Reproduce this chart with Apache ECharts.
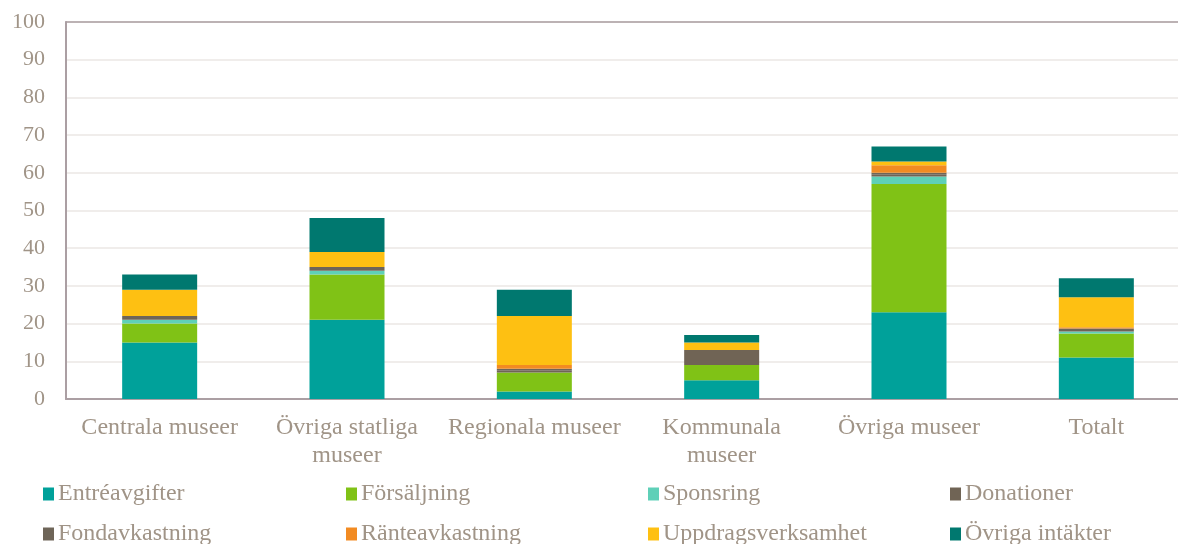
<!DOCTYPE html>
<html><head><meta charset="utf-8">
<script src="https://cdn.jsdelivr.net/npm/echarts@6/dist/echarts.min.js"></script>
<style>html,body{margin:0;padding:0;background:#fff;overflow:hidden}#c{width:1178px;height:544px}</style>
</head><body><div id="c"></div>
<script>
const categories = ['Centrala museer', 'Övriga statliga\nmuseer', 'Regionala museer', 'Kommunala\nmuseer', 'Övriga museer', 'Totalt'];
const seriesNames = ['Entréavgifter', 'Försäljning', 'Sponsring', 'Donationer', 'Fondavkastning', 'Ränteavkastning', 'Uppdragsverksamhet', 'Övriga intäkter'];
const entre       = [15, 21, 2, 5, 23, 11];
const forsaljning = [5, 12, 5, 4, 34, 6.4];
const sponsring   = [1, 1, 0, 0, 2, 0.5];
const donationer  = [0.5, 0.5, 0.5, 4, 0.5, 0.4];
const fond        = [0.5, 0.5, 0.5, 0, 0.5, 0.4];
const ranta       = [0, 0, 1, 0, 2, 0.3];
const uppdrag     = [7, 4, 13, 2, 1, 8];
const ovriga      = [4, 9, 7, 2, 4, 5];
const yTicks = [0, 10, 20, 30, 40, 50, 60, 70, 80, 90, 100];

const values = [entre, forsaljning, sponsring, donationer, fond, ranta, uppdrag, ovriga];
const colors = ['#00a19a', '#80c216', '#5fd0b8', '#706455', '#6e6558', '#f28b22', '#fec012', '#00786f'];
const txt = '#a09487';
const font = 'Liberation Serif';

const legendPos = [[38, 477], [341, 477], [643, 477], [945, 477], [38, 517], [341, 517], [643, 517], [945, 517]];
const legends = seriesNames.map((n, i) => ({
  data: [n], left: legendPos[i][0], top: legendPos[i][1],
  itemWidth: 11, itemHeight: 13, icon: 'rect', itemGap: 0,
  textStyle: { color: txt, fontFamily: font, fontSize: 24, padding: [0, 0, 0, -1] },
  selectedMode: false
}));

const chart = echarts.init(document.getElementById('c'), null, { renderer: 'canvas' });
chart.setOption({
  animation: false,
  color: colors,
  legend: legends,
  grid: { left: 66, top: 22, width: 1124, height: 377, outerBoundsMode: 'none', containLabel: false },
  xAxis: [{
    type: 'category', data: categories,
    axisLine: { lineStyle: { color: '#ab9fa3', width: 2 } },
    axisTick: { show: false },
    splitLine: { show: false },
    axisLabel: { color: txt, fontFamily: font, fontSize: 24, margin: 15, lineHeight: 28, interval: 0 }
  }, {
    type: 'category', data: categories, position: 'top',
    axisLine: { show: true, lineStyle: { color: '#ab9fa3', width: 1.5 } },
    axisTick: { show: false }, axisLabel: { show: false }, splitLine: { show: false }
  }],
  yAxis: {
    type: 'value', min: yTicks[0], max: yTicks[yTicks.length - 1], interval: 10,
    axisLine: { show: true, lineStyle: { color: '#ab9fa3', width: 2 } },
    axisTick: { show: false },
    splitLine: { lineStyle: { color: '#ebe7e4', width: 1.5 } },
    axisLabel: { color: txt, fontFamily: font, fontSize: 22, margin: 21 }
  },
  series: seriesNames.map((n, i) => ({
    name: n, type: 'bar', stack: 'total', data: values[i], barWidth: 75,
    itemStyle: { color: colors[i] }
  }))
});
</script></body></html>
